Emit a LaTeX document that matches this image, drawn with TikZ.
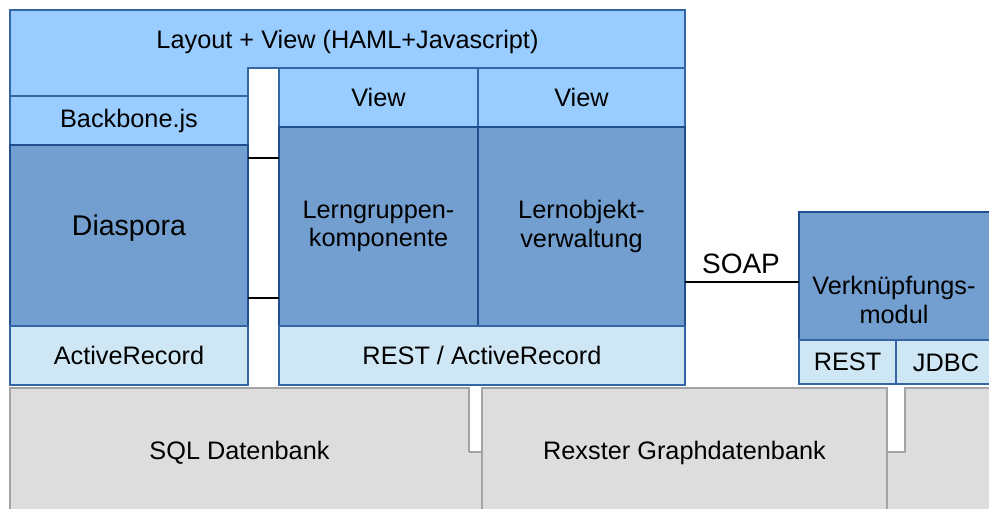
\documentclass[tikz,border=0pt]{standalone}
\usepackage{fontspec}
\setmainfont{Liberation Sans}
\usetikzlibrary{calc}
\definecolor{lblue}{HTML}{99CCFF}
\definecolor{mblue}{HTML}{729FCF}
\definecolor{pblue}{HTML}{CFE7F5}
\definecolor{bord}{HTML}{3465A4}
\definecolor{dbord}{HTML}{1F4F8F}
\definecolor{gfill}{HTML}{DDDDDD}
\definecolor{gbord}{HTML}{A3A3A3}
\tikzset{
 blk/.style={draw=bord, line width=1.6pt, inner sep=0pt, outer sep=0pt, align=center, anchor=north west, font=\fontsize{25.3}{28.5}\selectfont, text=black},
 lb/.style={blk, fill=lblue},
 mb/.style={blk, fill=mblue, draw=dbord},
 pb/.style={blk, fill=pblue},
 gb/.style={draw=gbord, fill=gfill, line width=1.6pt, inner sep=0pt, outer sep=0pt, anchor=north west},
 txt/.style={inner sep=0pt, align=center, font=\fontsize{25.3}{28.5}\selectfont, text=black},
 conn/.style={draw=black, line width=1.6pt},
}
\begin{document}
\begin{tikzpicture}[x=1pt,y=-1pt]
\useasboundingbox (0,0) rectangle (989,509);
\begin{scope}
\clip (0,0) rectangle (989,509);
% database layer
\node[gb, minimum width=459pt, minimum height=140pt] (sql) at (10,388) {};
\node[gb, minimum width=120pt, minimum height=140pt] (db3) at (905,388) {};
\fill[gfill] (468,452) rectangle (483,530);
\fill[gfill] (886,452) rectangle (906,530);
\draw[draw=gbord, line width=1.6pt] (sql.north east |- 0,452) -- (db3.north west |- 0,452);
\draw[draw=gbord, line width=1.6pt] (db3.north west) -- (db3.north west |- 0,452) -- (886,452);
\node[gb, minimum width=405pt, minimum height=140pt] (rex) at (482,388) {};
\node[txt] (sqlt) at (239.5,453) {SQL Datenbank};
\node[txt] (rext) at (684.5,453) {Rexster Graphdatenbank};
% layout
\draw[draw=bord, fill=lblue, line width=1.6pt] (10,10) -- (685,10) -- (685,68) -- (248,68) -- (248,96) -- (10,96) -- cycle;
\node[txt] (lay) at (347.5,41.5) {Layout + View (HAML+Javascript)};
% left column
\node[lb, minimum width=238pt, minimum height=49pt] (bb) at (10,96) {Backbone.js};
\node[mb, minimum width=238pt, minimum height=181pt] (dia) at (10,145) {};
\node[txt, font=\fontsize{28.5}{32}\selectfont] (diat) at (129,228) {Diaspora};
\node[pb, minimum width=238pt, minimum height=59pt] (ar) at (10,326) {ActiveRecord};
% middle column
\node[lb, minimum width=199pt, minimum height=59pt] (v1) at (279,68) {View};
\node[lb, minimum width=207pt, minimum height=59pt] (v2) at (478,68) {View};
\node[mb, minimum width=199pt, minimum height=199pt] (lg) at (279,127) {Lerngruppen-\\komponente};
\node[mb, minimum width=207pt, minimum height=199pt] (lo) at (478,127) {Lernobjekt-\\verwaltung};
\node[pb, minimum width=406pt, minimum height=59pt] (rar) at (279,326) {REST / ActiveRecord};
% right module
\node[mb, minimum width=220pt, minimum height=128pt] (vm) at (799,212) {};
\node[txt] (vmt) at (894,300) {Verknüpfungs-\\modul};
\node[pb, minimum width=97pt, minimum height=44pt] (rest) at (799,340) {REST};
\node[pb, minimum width=130pt, minimum height=44pt] (jdbc) at (896,340) {};
\node[txt] (jdbct) at (946,363) {JDBC};
% connectors
\draw[conn] (dia.east |- 0,158) -- (lg.west |- 0,158);
\draw[conn] (dia.east |- 0,298) -- (lg.west |- 0,298);
\draw[conn] ([yshift=-6pt]vm.west) -- ([yshift=-6pt]vm.west -| lo.east);
\node[txt, font=\fontsize{28}{31}\selectfont] (soap) at (741,264) {SOAP};
\end{scope}
\end{tikzpicture}
\end{document}
